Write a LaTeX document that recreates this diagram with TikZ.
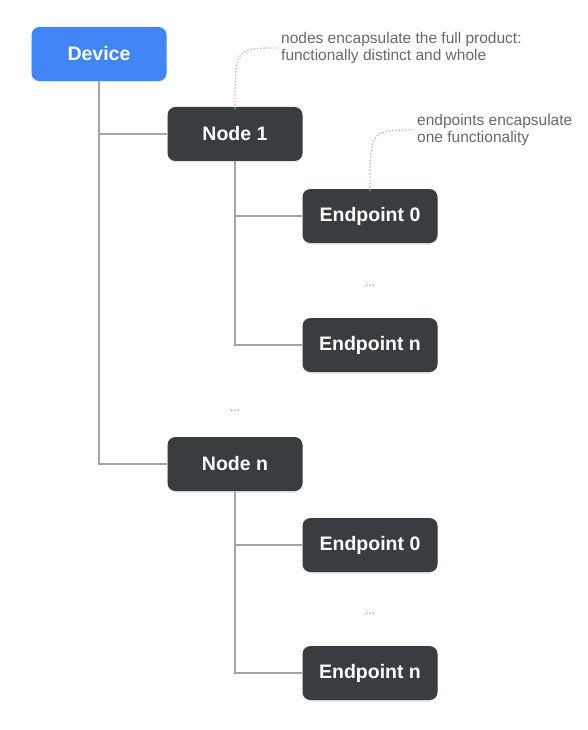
\documentclass[tikz,border=0pt]{standalone}
\usepackage{fontspec}
\setmainfont{Liberation Sans}
\usetikzlibrary{shadows}
\usepackage{xcolor}
\definecolor{devblue}{HTML}{4285F4}
\definecolor{boxgray}{HTML}{3A3D40}
\definecolor{linegray}{HTML}{A5A5A5}
\definecolor{notegray}{HTML}{66696D}

\begin{document}
\begin{tikzpicture}[x=1pt, y=-1pt,
  box/.style={rounded corners=8pt, minimum width=135pt, minimum height=54pt,
    text=white, font=\bfseries\fontsize{19.5}{23}\selectfont,
    drop shadow={opacity=0.2, shadow xshift=0pt, shadow yshift=-1.5pt}},
  dev/.style={box, fill=devblue},
  item/.style={box, fill=boxgray},
  tree/.style={linegray, line width=1.1pt},
  hint/.style={linegray!80, dotted, line width=1.3pt},
  note/.style={text=notegray, font=\fontsize{15.5}{17}\selectfont, align=left, anchor=west, inner sep=3pt},
  gap/.style={text=notegray!80, font=\fontsize{12}{12}\selectfont}
]
\useasboundingbox (0,0) rectangle (588,730);

% tree
\node[dev]  (device) at (99,54)  {Device};
\node[item] (node1)  at (235,134) {Node 1};
\node[item] (ep10)   at (370,216) {Endpoint 0};
\node[item] (ep1n)   at (370,345) {Endpoint n};
\node[item] (noden)  at (235,464) {Node n};
\node[item] (epn0)   at (370,545) {Endpoint 0};
\node[item] (epnn)   at (370,673) {Endpoint n};

\node[gap] (gapep1) at (370,286) {...};
\node[gap] (gapnode) at (235,411) {...};
\node[gap] (gapepn) at (370,614) {...};

\draw[tree] (device.south) |- (node1.west);
\draw[tree] (device.south) |- (noden.west);
\draw[tree] (node1.south) |- (ep10.west);
\draw[tree] (node1.south) |- (ep1n.west);
\draw[tree] (noden.south) |- (epn0.west);
\draw[tree] (noden.south) |- (epnn.west);

% notes
\node[note] (note1) at (278,48) {nodes encapsulate the full product:\\functionally distinct and whole};
\node[note] (note2) at (414,130) {endpoints encapsulate\\one functionality};

\draw[hint] ([yshift=-2pt]node1.north) .. controls (node1.north |- note1.west) .. (note1.west);
\draw[hint] ([yshift=-2pt]ep10.north) .. controls (ep10.north |- note2.west) .. (note2.west);
\end{tikzpicture}
\end{document}
